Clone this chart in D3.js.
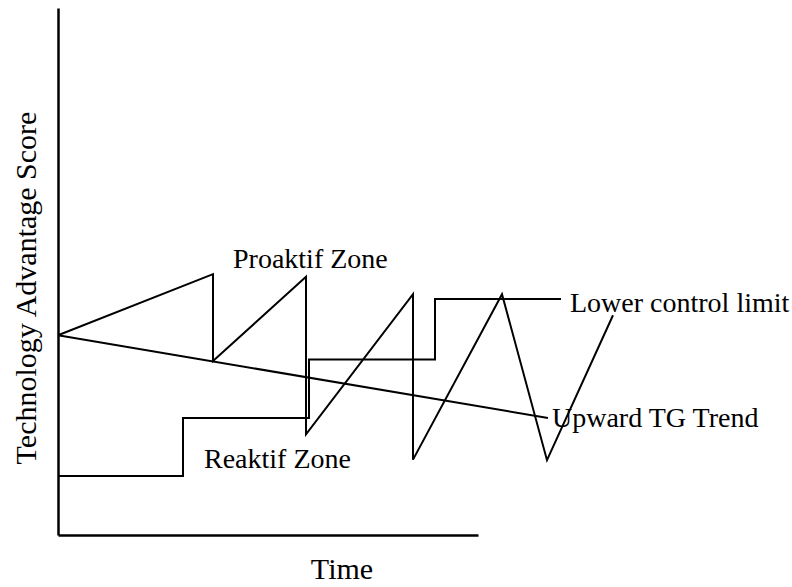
<!DOCTYPE html>
<html>
<head>
<meta charset="utf-8">
<script src="https://cdnjs.cloudflare.com/ajax/libs/d3/7.8.5/d3.min.js"></script>
<style>
  body { margin: 0; background: #fff; }
</style>
</head>
<body>
<div id="root"></div>
<script>
// values (time units, score units)
var sawTime  = [0, 38.75, 38.75, 62, 62, 88.75, 88.75, 111, 122.25, 138.75];
var sawScore = [37.9, 49.5, 33.0, 49.0, 19.1, 45.7, 14.3, 45.7, 14.2, 41.7];

var limitTime  = [0, 31.25, 31.25, 62.75, 62.75, 94.25, 94.25, 125.75];
var limitScore = [11.2, 11.2, 22.2, 22.2, 33.3, 33.3, 44.8, 44.8];

var trendTime  = [0, 122.5];
var trendScore = [37.9, 22.2];

var labels = [
  {text: 'Proaktif Zone', t: 43.75, s: 50.7},
  {text: 'Reaktif Zone', t: 36.5, s: 12.7},
  {text: 'Lower control limit', t: 128, s: 42.3},
  {text: 'Upward TG Trend', t: 123.5, s: 20.5}
];

var w = 792, h = 587;
var serif = '"Liberation Serif", "Times New Roman", "DejaVu Serif", serif';

var xScale = d3.scaleLinear()
              .domain([0, 105])
              .range([58, 478]);

var yScale = d3.scaleLinear()
              .domain([0, 100])
              .range([535, 8]);

var svg = d3.select('#root').append('svg')
            .attr('width', w)
            .attr('height', h);

// bare axes, no ticks
svg.append('g')
  .attr('transform', 'translate(0,' + yScale(0) + ')')
  .call(d3.axisBottom(xScale).ticks(0).tickSizeOuter(0))
  .select('.domain').attr('stroke-width', 2.5);

svg.append('g')
  .attr('transform', 'translate(' + xScale(0) + ',0)')
  .call(d3.axisLeft(yScale).ticks(0).tickSizeOuter(0))
  .select('.domain').attr('stroke-width', 2.5);

var line = d3.line()
            .x(function(d) { return xScale(d[0]); })
            .y(function(d) { return yScale(d[1]); });

function drawSeries(times, scores) {
  svg.append('path')
    .datum(d3.zip(times, scores))
    .attr('d', line)
    .attr('fill', 'none')
    .attr('stroke', '#000')
    .attr('stroke-width', 2)
    .attr('stroke-linejoin', 'miter');
}

drawSeries(limitTime, limitScore);
drawSeries(trendTime, trendScore);
drawSeries(sawTime, sawScore);

svg.selectAll('text.note')
  .data(labels).enter()
  .append('text')
  .attr('class', 'note')
  .attr('x', function(d) { return xScale(d.t); })
  .attr('y', function(d) { return yScale(d.s); })
  .style('font-family', serif)
  .style('font-size', '28px')
  .text(function(d) { return d.text; });

// axis titles
svg.append('text')
  .attr('text-anchor', 'middle')
  .attr('x', 342)
  .attr('y', 579)
  .style('font-family', serif)
  .style('font-size', '30px')
  .text('Time');

svg.append('text')
  .attr('text-anchor', 'middle')
  .attr('transform', 'translate(36,288) rotate(-90)')
  .style('font-family', serif)
  .style('font-size', '30px')
  .text('Technology Advantage Score');
</script>
</body>
</html>
